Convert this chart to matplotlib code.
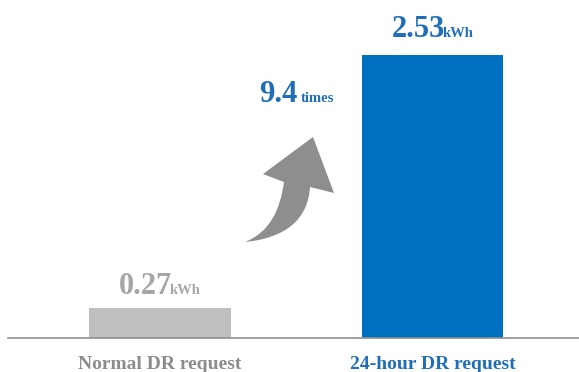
import matplotlib
matplotlib.use("Agg")
import matplotlib.pyplot as plt
from matplotlib.offsetbox import TextArea, HPacker, AnnotationBbox
from matplotlib.path import Path
from matplotlib.patches import PathPatch
import matplotlib.transforms as mtransforms

categories = ["Normal DR request", "24-hour DR request"]
values = [0.27, 2.53]
value_labels = ["0.27", "2.53"]
unit = "kWh"
ratio_label = "9.4"
ratio_unit = "times"

bar_colors = ["#BFBFBF", "#0070C0"]
text_colors = ["#A6A6A6", "#1F6FB8"]
label_colors = ["#8C8C8C", "#1F6FB8"]
FONT = "Liberation Serif"

W, H = 579, 372
fig = plt.figure(figsize=(W / 100, H / 100), dpi=100)
ax = fig.add_axes([8 / W, (H - 338) / H, (W - 8) / W, 338 / H])

x = [0, 1]
ax.bar(x, values, width=0.521, color=bar_colors, zorder=2)
ax.set_xlim(-0.5578, 1.5376)
ax.set_ylim(0, 3.022)

for s in ["top", "right", "left"]:
    ax.spines[s].set_visible(False)
ax.spines["bottom"].set_color("#8F8F8F")
ax.spines["bottom"].set_linewidth(1.2)
ax.set_yticks([])
ax.set_xticks(x)
ax.set_xticklabels(categories, fontfamily=FONT, fontweight="bold", fontsize=14)
for lbl, c in zip(ax.get_xticklabels(), label_colors):
    lbl.set_color(c)
ax.tick_params(axis="x", length=0, pad=13)

def num_unit(xv, yv, num, un, color, big=22, small=10.5, dy=8, sep=-2):
    t1 = TextArea(num, textprops=dict(fontfamily=FONT, fontweight="bold",
                                      fontsize=big, color=color))
    t2 = TextArea(un, textprops=dict(fontfamily=FONT, fontweight="bold",
                                     fontsize=small, color=color))
    box = HPacker(children=[t1, t2], align="baseline", pad=0, sep=sep)
    ab = AnnotationBbox(box, (xv, yv), xybox=(0, dy), xycoords="data",
                        boxcoords="offset points", box_alignment=(0.5, 0),
                        frameon=False, pad=0)
    ax.add_artist(ab)

label_dy = [5, 8]
for xi, v, lab, c, d in zip(x, values, value_labels, text_colors, label_dy):
    num_unit(xi, v, lab, unit, c, dy=d)

num_unit(0.502, 1.95, ratio_label, ratio_unit, text_colors[1], sep=2)

# curved arrow (pixel coordinates, y down)
verts = [
    (284, 182),
    (280, 210), (270, 232), (245, 242),
    (285, 238), (308, 220), (310, 187),
    (334, 193),
    (313, 137),
    (263, 174),
    (284, 182),
]
codes = [Path.MOVETO,
         Path.CURVE4, Path.CURVE4, Path.CURVE4,
         Path.CURVE4, Path.CURVE4, Path.CURVE4,
         Path.LINETO, Path.LINETO, Path.LINETO, Path.CLOSEPOLY]
tr = mtransforms.Affine2D().scale(1 / W, -1 / H).translate(0, 1) + fig.transFigure
fig.patches.append(PathPatch(Path(verts, codes), facecolor="#8E8E8E",
                             edgecolor="none", transform=tr))

fig.savefig("out.png", dpi=100)
